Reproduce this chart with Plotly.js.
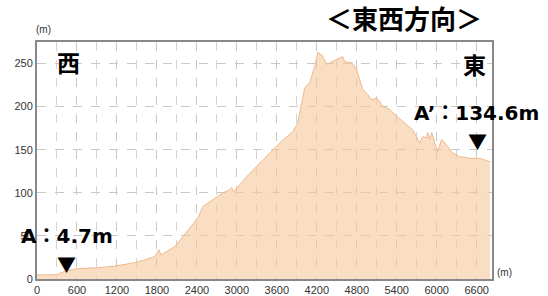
<!DOCTYPE html>
<html><head><meta charset="utf-8">
<script src="https://cdn.plot.ly/plotly-3.0.1.min.js"></script>
<style>html,body{margin:0;padding:0;background:#fff}#c{width:548px;height:296px}</style>
</head><body><div id="c"></div>
<script>
const distance = [0,150,300,420,600,720,900,1170,1470,1650,1770,1830,1860,2070,2145,2250,2340,2415,2490,2640,2790,2880,2925,2950,3150,3390,3645,3840,3915,3975,4020,4095,4170,4215,4275,4350,4395,4500,4590,4620,4725,4800,4845,4890,4965,5025,5100,5145,5190,5295,5340,5490,5640,5745,5790,5850,5865,5895,5925,5970,6015,6075,6120,6165,6225,6345,6495,6645,6800];
const elevation = [4.7,4.5,5,9,12,12.4,13,15,19,23,26,34,28,37.6,45,55,65,71,84,92,100,103,106,101,119,138,158,171,181,205,222,228,247,263,260,249,251,255,258,252,251,243,231,220,214,208,210,206,200,197,193,183,173,158,165,164,170,162,170,158,148,162,158,154,147,142,140,140,136];
const xTicks = [0,600,1200,1800,2400,3000,3600,4200,4800,5400,6000,6600];
const yTicks = [0,50,100,150,200,250];
const titleText = "＜東西方向＞";
const westLabel = "西", eastLabel = "東";
const pointA = "A：4.7m", pointA2 = "A’：134.6m";

const jp = '"Noto Sans CJK JP", sans-serif';
const lat = '"DejaVu Sans", "Noto Sans CJK JP", sans-serif';
const trace = {
  x: distance, y: elevation, type: 'scatter', mode: 'lines',
  fill: 'tozeroy', fillcolor: 'rgba(245,200,155,0.6)',
  line: {color: 'rgb(240,185,140)', width: 1}, hoverinfo: 'skip'
};
const layout = {
  width: 548, height: 296,
  margin: {l: 37, r: 56, t: 42, b: 17},
  paper_bgcolor: '#fff', plot_bgcolor: '#fff',
  showlegend: false,
  font: {family: 'Arial, "Liberation Sans", sans-serif', size: 11, color: '#333'},
  xaxis: {
    range: [0, 6830], tickvals: xTicks, ticktext: xTicks.map(String),
    showgrid: true, gridcolor: '#c8c8c8', griddash: 'dash', gridwidth: 1,
    minor: {dtick: 300, tick0: 0, showgrid: true, gridcolor: '#d4d4d4', griddash: 'dash', gridwidth: 1},
    showline: true, mirror: true, linecolor: '#888', linewidth: 2,
    ticks: '', ticklen: 0, zeroline: false, tickfont: {size: 11, color: '#333'}
  },
  yaxis: {
    range: [0, 275], tickvals: yTicks, ticktext: yTicks.map(String),
    showgrid: true, gridcolor: '#c8c8c8', griddash: 'dash', gridwidth: 1,
    showline: true, mirror: true, linecolor: '#888', linewidth: 2,
    ticks: '', ticklen: 0, zeroline: false, tickfont: {size: 11, color: '#333'}
  },
  annotations: [
    {text: titleText, xref: 'paper', yref: 'paper', x: (404-37)/455, y: 1 + (42-18)/237, showarrow: false,
     font: {family: jp, size: 26, color: '#000', weight: 'bold'}, xanchor: 'center', yanchor: 'middle'},
    {text: westLabel, xref: 'paper', yref: 'paper', x: (68-37)/455, y: (279-62)/237, showarrow: false,
     font: {family: jp, size: 23, color: '#000', weight: 'bold'}, xanchor: 'center', yanchor: 'middle'},
    {text: eastLabel, xref: 'paper', yref: 'paper', x: (474-37)/455, y: (279-64)/237, showarrow: false,
     font: {family: jp, size: 23, color: '#000', weight: 'bold'}, xanchor: 'center', yanchor: 'middle'},
    {text: pointA2, xref: 'paper', yref: 'paper', x: (476-37)/455, y: (279-113)/237, showarrow: false,
     font: {family: lat, size: 20, color: '#000', weight: 'bold'}, xanchor: 'center', yanchor: 'middle'},
    {text: '▼', xref: 'paper', yref: 'paper', x: (477-37)/455, y: (279-140)/237, showarrow: false,
     font: {family: jp, size: 19, color: '#000'}, xanchor: 'center', yanchor: 'middle'},
    {text: pointA, xref: 'paper', yref: 'paper', x: (67-37)/455, y: (279-236)/237, showarrow: false,
     font: {family: lat, size: 20, color: '#000', weight: 'bold'}, xanchor: 'center', yanchor: 'middle'},
    {text: '▼', xref: 'paper', yref: 'paper', x: (66-37)/455, y: (279-263)/237, showarrow: false,
     font: {family: jp, size: 19, color: '#000'}, xanchor: 'center', yanchor: 'middle'},
    {text: '(m)', xref: 'paper', yref: 'paper', x: (43-37)/455, y: 1 + (42-30)/237, showarrow: false,
     font: {size: 10, color: '#333'}, xanchor: 'center', yanchor: 'middle'},
    {text: '(m)', xref: 'paper', yref: 'paper', x: (505-37)/455, y: (279-272)/237, showarrow: false,
     font: {size: 10, color: '#333'}, xanchor: 'center', yanchor: 'middle'}
  ]
};
Plotly.newPlot('c', [trace], layout, {staticPlot: true, displayModeBar: false});
</script></body></html>
